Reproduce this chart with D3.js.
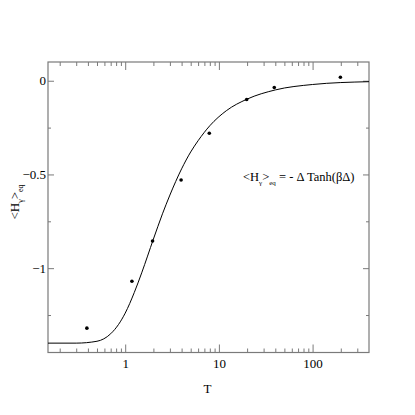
<!DOCTYPE html>
<html>
<head>
<meta charset="utf-8">
<script src="https://cdn.jsdelivr.net/npm/d3@7"></script>
<style>
  body { margin: 0; background: #fff; }
  text { font-family: "Liberation Serif", "DejaVu Serif", serif; }
</style>
</head>
<body>
<svg id="chart" width="415" height="415"></svg>
<script>
// curve
const curveT = [0.15, 0.3, 0.5, 0.7, 0.85, 1, 1.25, 1.5, 2, 2.5, 3, 4, 5, 6, 8, 12, 20, 40, 100, 400];
const curveH = [-1.40, -1.40, -1.39, -1.35, -1.30, -1.24, -1.13, -1.025, -0.845, -0.71, -0.61, -0.47, -0.38, -0.32, -0.24, -0.16, -0.098, -0.049, -0.02, -0.005];

// data points
const ptT = [0.39, 1.18, 1.96, 3.95, 7.9, 19.8, 39, 198];
const ptH = [-1.32, -1.07, -0.855, -0.53, -0.28, -0.10, -0.036, 0.019];

const xMajor = [1, 10, 100];
const xMinor = [0.2, 0.3, 0.4, 0.5, 0.6, 0.7, 0.8, 0.9, 2, 3, 4, 5, 6, 7, 8, 9, 20, 30, 40, 50, 60, 70, 80, 90, 200, 300];
const yMajor = [0, -0.5, -1];
const yMinor = [-0.25, -0.75, -1.25];

const mLeft = 48, mRight = 369, mTop = 62, mBottom = 352.5;
const svg = d3.select("#chart");

const x = d3.scaleLog().domain([0.15, 400]).range([mLeft, mRight]);
const y = d3.scaleLinear().domain([-1.45, 0.1]).range([mBottom, mTop]);

const axisColor = "#7a7a7a";
function styleAxis(g) {
  g.attr("font-family", null);
  g.select(".domain").remove();
  g.selectAll(".tick line").attr("stroke", axisColor);
  g.selectAll(".tick text").attr("fill", "#000")
    .style("font-family", '"Liberation Serif", serif')
    .style("font-size", "13px");
}

// bottom axis
svg.append("g").attr("transform", `translate(0,${mBottom})`)
  .call(d3.axisBottom(x).tickValues(xMajor).tickSizeInner(-8).tickSizeOuter(0)
    .tickPadding(6).tickFormat(d3.format("d")))
  .call(styleAxis);
svg.append("g").attr("transform", `translate(0,${mBottom})`)
  .call(d3.axisBottom(x).tickValues(xMinor).tickSizeInner(-4).tickSizeOuter(0).tickFormat(""))
  .call(styleAxis);
// top axis
svg.append("g").attr("transform", `translate(0,${mTop})`)
  .call(d3.axisTop(x).tickValues(xMajor).tickSizeInner(-8).tickSizeOuter(0).tickFormat(""))
  .call(styleAxis);
svg.append("g").attr("transform", `translate(0,${mTop})`)
  .call(d3.axisTop(x).tickValues(xMinor).tickSizeInner(-4).tickSizeOuter(0).tickFormat(""))
  .call(styleAxis);
// left axis
svg.append("g").attr("transform", `translate(${mLeft},0)`)
  .call(d3.axisLeft(y).tickValues(yMajor).tickSizeInner(-6).tickSizeOuter(0)
    .tickPadding(2).tickFormat(d => d === 0 ? "0" : d3.format("")(d)))
  .call(styleAxis);
svg.append("g").attr("transform", `translate(${mLeft},0)`)
  .call(d3.axisLeft(y).tickValues(yMinor).tickSizeInner(-3).tickSizeOuter(0).tickFormat(""))
  .call(styleAxis);
// right axis
svg.append("g").attr("transform", `translate(${mRight},0)`)
  .call(d3.axisRight(y).tickValues(yMajor).tickSizeInner(-6).tickSizeOuter(0).tickFormat(""))
  .call(styleAxis);
svg.append("g").attr("transform", `translate(${mRight},0)`)
  .call(d3.axisRight(y).tickValues(yMinor).tickSizeInner(-3).tickSizeOuter(0).tickFormat(""))
  .call(styleAxis);

// frame
svg.append("rect")
  .attr("x", mLeft).attr("y", mTop)
  .attr("width", mRight - mLeft).attr("height", mBottom - mTop)
  .attr("fill", "none").attr("stroke", axisColor).attr("stroke-width", 1.2);

// curve
const line = d3.line()
  .x(d => x(d[0]))
  .y(d => y(d[1]))
  .curve(d3.curveMonotoneX);
svg.append("path")
  .datum(d3.zip(curveT, curveH))
  .attr("d", line)
  .attr("fill", "none")
  .attr("stroke", "#000")
  .attr("stroke-width", 1);

// points
svg.selectAll(".pt")
  .data(d3.zip(ptT, ptH))
  .enter()
  .append("circle")
  .attr("class", "pt")
  .attr("cx", d => x(d[0]))
  .attr("cy", d => y(d[1]))
  .attr("r", 1.8)
  .attr("fill", "#000");

// x label
svg.append("text")
  .attr("x", (mLeft + mRight) / 2 - 1).attr("y", 393)
  .attr("text-anchor", "middle")
  .style("font-size", "13px")
  .text("T");

// y label
const yl = svg.append("text")
  .attr("transform", "translate(19,202) rotate(-90)")
  .attr("text-anchor", "middle")
  .style("font-size", "13px");
yl.append("tspan").text("<H");
yl.append("tspan").attr("dy", 4).style("font-size", "8px").text("γ");
yl.append("tspan").attr("dy", -4).text(">");
yl.append("tspan").attr("dy", 4).style("font-size", "8px").text("eq");

// formula annotation
const ann = svg.append("text")
  .attr("x", 243).attr("y", 181)
  .style("font-size", "12.5px");
ann.append("tspan").text("<H");
ann.append("tspan").attr("dy", 4).style("font-size", "7px").text("γ");
ann.append("tspan").attr("dy", -4).text(">");
ann.append("tspan").attr("dy", 4).style("font-size", "7px").text("eq");
ann.append("tspan").attr("dy", -4).text(" = - Δ Tanh(βΔ)");
</script>
</body>
</html>
